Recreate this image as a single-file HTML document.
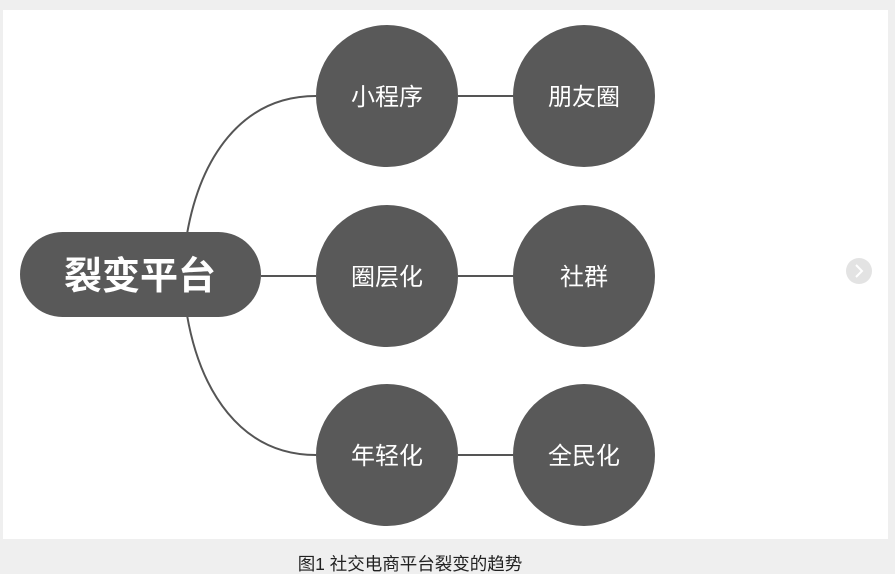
<!DOCTYPE html>
<html><head><meta charset="utf-8"><style>
body{margin:0;width:895px;height:574px;background:#efefef;overflow:hidden;font-family:"Liberation Sans","Noto Sans CJK SC",sans-serif}
</style></head><body>
<svg width="895" height="574" style="position:absolute;left:0;top:0">
<rect x="3" y="10" width="885" height="529" fill="#fff"/>
<g stroke="#555" stroke-width="2" fill="none">
<path d="M187 234 C200 160 240 96 316 96"/>
<path d="M187 315 C200 390 240 455 316 455"/>
<line x1="261" y1="276" x2="316" y2="276"/>
<line x1="458" y1="96" x2="514" y2="96"/>
<line x1="458" y1="276" x2="514" y2="276"/>
<line x1="458" y1="455" x2="514" y2="455"/>
</g>
<rect x="20" y="232" width="241" height="85" rx="42.5" fill="#595959"/>
<text x="140" y="289" font-size="38" font-weight="bold" fill="#fff" text-anchor="middle" font-family="Noto Sans CJK SC,sans-serif">裂变平台</text>
<g fill="#595959">
<circle cx="387" cy="96" r="71"/><circle cx="584" cy="96" r="71"/>
<circle cx="387" cy="276" r="71"/><circle cx="584" cy="276" r="71"/>
<circle cx="387" cy="455" r="71"/><circle cx="584" cy="455" r="71"/>
</g>
<g fill="#fff" font-size="24" text-anchor="middle" font-family="Noto Sans CJK SC,sans-serif">
<text x="387" y="105">小程序</text><text x="584" y="105">朋友圈</text>
<text x="387" y="285">圈层化</text><text x="584" y="285">社群</text>
<text x="387" y="464">年轻化</text><text x="584" y="464">全民化</text>
</g>
<circle cx="859" cy="271" r="13" fill="#e3e3e3"/>
<path d="M856 265 L862 271 L856 277" stroke="#fff" stroke-width="2" fill="none"/>
<text x="410" y="570" font-size="17.5" fill="#222" text-anchor="middle" font-family="Liberation Sans,Noto Sans CJK SC,sans-serif">图1 社交电商平台裂变的趋势</text>
</svg>
</body></html>
